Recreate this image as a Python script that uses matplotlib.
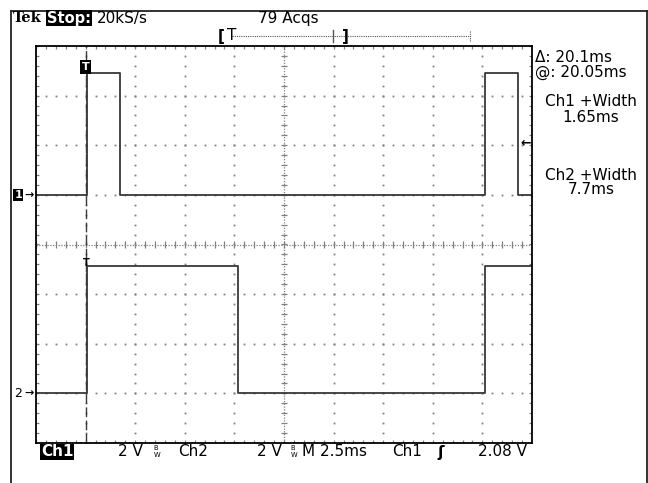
import numpy as np
import matplotlib.pyplot as plt
from matplotlib.collections import LineCollection
from matplotlib.lines import Line2D
from matplotlib.transforms import offset_copy

W, H = 648, 483

# time base (ms), trigger at t = 0 on first division
t_start, t_end = -2.5, 22.5
ms_per_div = 2.5
volts_per_div = 2.0

# Ch1 and Ch2 traces, volts vs ms
ch1_t = [-2.5, 0.07, 0.07, 1.72, 1.72, 20.13, 20.13, 21.78, 21.78, 22.5]
ch1_v = [0.0, 0.0, 4.9, 4.9, 0.0, 0.0, 4.9, 4.9, 0.0, 0.0]
ch2_t = [-2.5, 0.07, 0.07, 7.68, 7.68, 20.15, 20.15, 22.5]
ch2_v = [0.0, 0.0, 5.15, 5.15, 0.0, 0.0, 5.15, 5.15]
ch1_offset = 1.0    # ground marker, divisions from centre
ch2_offset = -3.0
trig_level = 2.08   # V on Ch1

top_left = ['Tek', 'Stop:', '20kS/s']
acqs = '79 Acqs'
readout = ['\u0394: 20.1ms', '@: 20.05ms', 'Ch1 +Width', '1.65ms', 'Ch2 +Width', '7.7ms']

grid_col = '#808080'
trace_col = '#383838'
FONT = 'DejaVu Sans'
FS = 11


def px(x, y):
    return x / W, 1 - y / H


fig = plt.figure(figsize=(W / 100, H / 100), dpi=100)
fig.patch.set_facecolor('white')

# outer frame of the screen
for xs, ys in [([11, 11], [483, 11]), ([11, 647], [11, 11]), ([647, 647], [11, 483])]:
    fig.add_artist(Line2D([x / W for x in xs], [1 - y / H for y in ys],
                          color='#222222', lw=1.3))

ax = fig.add_axes([36 / W, 1 - 443 / H, 496 / W, 397 / H])
ax.set_xlim(t_start, t_end)
ax.set_ylim(-4, 4)
ax.set_xticks([])
ax.set_yticks([])
for s in ax.spines.values():
    s.set_color('black')
    s.set_linewidth(1.3)

# graticule dots on the major lines
xmaj = [t_start + k * ms_per_div for k in range(1, 10)]
ymaj = list(range(-3, 4))
xc, yc = xmaj[4], 0
ydots = np.arange(-4, 4.001, 0.2)
xdots = np.arange(t_start, t_end + 0.001, ms_per_div / 5)
for x in xmaj:
    if x == xc:
        continue
    ax.plot(np.full(len(ydots), x), ydots, ls='none', marker='s', ms=1.3,
            mew=0, color=grid_col)
for y in ymaj:
    if y == yc:
        continue
    ax.plot(xdots, np.full(len(xdots), y), ls='none', marker='s', ms=1.3,
            mew=0, color=grid_col)

# centre cross with minor ticks
ax.axvline(xc, color=grid_col, lw=0.9, ls=(0, (1, 1.2)))
ax.axhline(yc, color=grid_col, lw=0.9, ls=(0, (1, 1.2)))
tx = 0.07 * ms_per_div
ty = 0.07
segs = [[(xc - tx, y), (xc + tx, y)] for y in ydots]
segs += [[(x, yc - ty), (x, yc + ty)] for x in xdots]
# border ticks
segs += [[(x, 4), (x, 4 - ty)] for x in xdots]
segs += [[(x, -4), (x, -4 + ty)] for x in xdots]
segs += [[(t_start, y), (t_start + tx, y)] for y in ydots]
segs += [[(t_end, y), (t_end - tx, y)] for y in ydots]
ax.add_collection(LineCollection(segs, colors=grid_col, linewidths=0.9))

# trigger position line
ax.axvline(0, color=trace_col, lw=1.0, ls=(0, (7, 2.5)))

# traces
ax.plot(ch1_t, np.array(ch1_v) / volts_per_div + ch1_offset, color=trace_col, lw=1.3)
ax.plot(ch2_t, np.array(ch2_v) / volts_per_div + ch2_offset, color=trace_col, lw=1.3)

# trigger markers
ax.text(0, 3.58, 'T', ha='center', va='center', color='white', fontsize=8,
        fontweight='bold', family=FONT,
        bbox=dict(facecolor='black', edgecolor='none', pad=1.2))
ax.text(0.02, -0.38, 'T', ha='center', va='center', color='black', fontsize=7,
        fontweight='bold', family=FONT)
ax.text(t_end - 0.05, trig_level / volts_per_div + ch1_offset, '\u2190',
        ha='right', va='center', fontsize=9, fontweight='bold', family=FONT)

# channel ground markers
tr_a = offset_copy(ax.transData, fig=fig, x=-2, y=0, units='dots')
tr_n = offset_copy(ax.transData, fig=fig, x=-14, y=0, units='dots')
ax.text(t_start, ch1_offset, '\u2192', transform=tr_a, ha='right', va='center',
        fontsize=8, fontweight='bold', family=FONT, clip_on=False)
ax.text(t_start, ch1_offset, '1', transform=tr_n, ha='right', va='center',
        fontsize=8, color='white', fontweight='bold', family=FONT, clip_on=False,
        bbox=dict(facecolor='black', edgecolor='none', pad=0.8))
ax.text(t_start, ch2_offset, '\u2192', transform=tr_a, ha='right', va='center',
        fontsize=8, fontweight='bold', family=FONT, clip_on=False)
ax.text(t_start, ch2_offset, '2', transform=tr_n, ha='right', va='center',
        fontsize=9, family=FONT, clip_on=False)

# top status line
fig.text(*px(13, 18), top_left[0], fontsize=10.5, fontweight='bold',
         family='DejaVu Serif', va='center')
fig.text(*px(47, 18), top_left[1], fontsize=10.5, fontweight='bold', color='white',
         family=FONT, va='center',
         bbox=dict(facecolor='black', edgecolor='none', pad=0.5))
fig.text(*px(97, 18), top_left[2], fontsize=FS, family=FONT, va='center')
fig.text(*px(258, 18), acqs, fontsize=FS, family=FONT, va='center')

# record view bracket
yb = 36
fig.add_artist(Line2D([232 / W, 470 / W], [1 - yb / H] * 2, color='#555555',
                      lw=0.8, ls=(0, (1, 1))))
fig.add_artist(Line2D([333 / W, 333 / W], [1 - 30 / H, 1 - 42 / H],
                      color='#555555', lw=1.0))
fig.add_artist(Line2D([470 / W, 470 / W], [1 - 31 / H, 1 - 41 / H],
                      color='#555555', lw=0.8, ls=(0, (1, 1))))
fig.text(*px(218, yb), '[', fontsize=FS, family=FONT, va='center', fontweight='bold')
fig.text(*px(342, yb), ']', fontsize=FS, family=FONT, va='center', fontweight='bold')
fig.text(*px(232, yb - 1), 'T', fontsize=FS, family=FONT, va='center', ha='center')

# cursor / measurement readout
fig.text(*px(535, 58), readout[0], fontsize=FS, family=FONT, va='center')
fig.text(*px(535, 72), readout[1], fontsize=FS, family=FONT, va='center')
fig.text(*px(591, 102), readout[2], fontsize=FS, family=FONT, va='center', ha='center')
fig.text(*px(591, 117), readout[3], fontsize=FS, family=FONT, va='center', ha='center')
fig.text(*px(591, 175), readout[4], fontsize=FS, family=FONT, va='center', ha='center')
fig.text(*px(591, 190), readout[5], fontsize=FS, family=FONT, va='center', ha='center')

# bottom settings line
yl = 452
fig.text(*px(41, yl), 'Ch1', fontsize=FS, color='white', family=FONT, va='center',
         fontweight='bold', bbox=dict(facecolor='black', edgecolor='none', pad=0.5))
fig.text(*px(118, yl), '2 V', fontsize=FS, family=FONT, va='center')
fig.text(*px(153, yl), r'$^{\mathrm{B}}_{\mathrm{W}}$', fontsize=7, family=FONT, va='center')
fig.text(*px(178, yl), 'Ch2', fontsize=FS, family=FONT, va='center')
fig.text(*px(257, yl), '2 V', fontsize=FS, family=FONT, va='center')
fig.text(*px(290, yl), r'$^{\mathrm{B}}_{\mathrm{W}}$', fontsize=7, family=FONT, va='center')
fig.text(*px(302, yl), 'M 2.5ms', fontsize=FS, family=FONT, va='center')
fig.text(*px(392, yl), 'Ch1', fontsize=FS, family=FONT, va='center')
fig.text(*px(437, yl), '\u0283', fontsize=FS, family=FONT, va='center', fontweight='bold')
fig.text(*px(478, yl), '2.08 V', fontsize=FS, family=FONT, va='center')

fig.savefig('out.png', dpi=100, facecolor='white')
